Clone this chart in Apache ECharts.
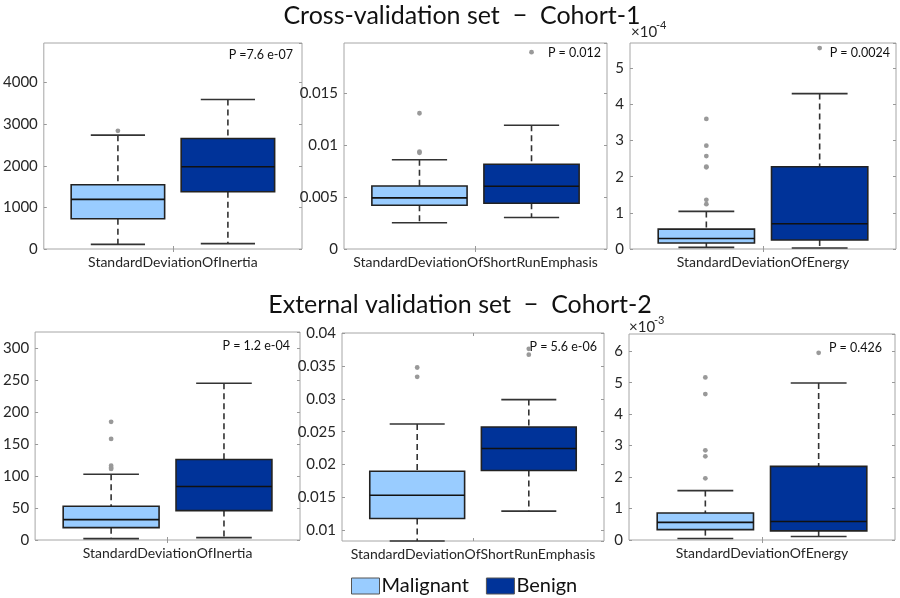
<!DOCTYPE html>
<html>
<head>
<meta charset="utf-8">
<script src="https://cdn.jsdelivr.net/npm/echarts@6/dist/echarts.min.js"></script>
<style>html,body{margin:0;padding:0;background:#fff}#c{width:900px;height:598px}</style>
</head>
<body>
<div id="c"></div>
<script>
// ---------- DATA ----------
const groups = ['Malignant', 'Benign'];
const rowTitles = ['Cross-validation set  \u2212  Cohort-1', 'External validation set  \u2212  Cohort-2'];
const features = [
  'StandardDeviationOfInertia', 'StandardDeviationOfShortRunEmphasis', 'StandardDeviationOfEnergy',
  'StandardDeviationOfInertia', 'StandardDeviationOfShortRunEmphasis', 'StandardDeviationOfEnergy'
];
const pValues = ['P =7.6 e-07', 'P = 0.012', 'P = 0.0024', 'P = 1.2 e-04', 'P = 5.6 e-06', 'P = 0.426'];
// box stats: [min whisker, Q1, median, Q3, max whisker]
const malignantBox = [
  [112, 728, 1192, 1544, 2736],
  [0.00252, 0.00421, 0.00491, 0.00606, 0.00858],
  [4.6e-6, 1.65e-5, 2.9e-5, 5.5e-5, 1.04e-4],
  [2.1, 19.3, 31.8, 52.7, 102.8],
  [0.0084, 0.01182, 0.01534, 0.0190, 0.02617],
  [5e-5, 3.3e-4, 5.6e-4, 8.6e-4, 1.57e-3]
];
const benignBox = [
  [128, 1376, 1976, 2656, 3592],
  [0.00303, 0.0044, 0.00603, 0.00814, 0.0119],
  [2.8e-6, 2.5e-5, 7.0e-5, 2.275e-4, 4.30e-4],
  [3.7, 45.9, 83.5, 125.7, 245],
  [0.01294, 0.0191, 0.02245, 0.02571, 0.02988],
  [1.1e-4, 2.9e-4, 5.9e-4, 2.34e-3, 4.99e-3]
];
const malignantOutliers = [
  [2840],
  [0.01305, 0.00935, 0.00925],
  [3.60e-4, 2.86e-4, 2.57e-4, 2.28e-4, 2.26e-4, 1.36e-4, 1.24e-4],
  [184.7, 158, 116, 113, 111],
  [0.03476, 0.03334],
  [5.17e-3, 4.64e-3, 2.85e-3, 2.66e-3, 1.96e-3]
];
const benignOutliers = [
  [],
  [0.01892],
  [5.56e-4],
  [],
  [0.0376, 0.0367],
  [5.95e-3]
];
// axis settings
const yMin = [0, 0, 0, 0, 0.0084, 0];
const yMax = [4950, 0.0198, 5.7e-4, 325, 0.04, 6.55e-3];
const yStep = [1000, 0.005, 1e-4, 50, 0.005, 1e-3];
const yExp = [0, 0, -4, 0, 0, -3];

// ---------- LAYOUT / STYLE ----------
const FONT = 'Lato, "Open Sans", sans-serif';
const colors = ['#99CCFF', '#003399'];
const offsets = [-0.213, 0.213];
const gridBoxes = [
  {left: 35, top: 43, width: 267, height: 206},
  {left: 344, top: 43, width: 263, height: 206},
  {left: 630, top: 43, width: 266, height: 206},
  {left: 34, top: 332, width: 266, height: 208},
  {left: 342, top: 333, width: 262, height: 208},
  {left: 629, top: 334, width: 266, height: 206}
];
const pPos = [[293, 55], [601, 53], [890, 53], [290, 346], [597, 347], [882, 348]];

function boxRenderer(off, fill) {
  return function (params, api) {
    const band = api.size([1, 0])[0];
    const x0 = api.value(0);
    const cx = api.coord([x0, 0])[0] + off * band;
    const ys = [1, 2, 3, 4, 5].map(i => api.coord([x0, api.value(i)])[1]);
    const bw = 0.362 * band, cw = 0.21 * band;
    const dash = {stroke: '#333', lineWidth: 1.6, lineDash: [6, 4]};
    const solid = {stroke: '#333', lineWidth: 1.6};
    return {
      type: 'group',
      children: [
        {type: 'line', shape: {x1: cx, y1: ys[4], x2: cx, y2: ys[3]}, style: dash},
        {type: 'line', shape: {x1: cx, y1: ys[1], x2: cx, y2: ys[0]}, style: dash},
        {type: 'line', shape: {x1: cx - cw / 2, y1: ys[4], x2: cx + cw / 2, y2: ys[4]}, style: solid},
        {type: 'line', shape: {x1: cx - cw / 2, y1: ys[0], x2: cx + cw / 2, y2: ys[0]}, style: solid},
        {type: 'rect', shape: {x: cx - bw / 2, y: ys[3], width: bw, height: ys[1] - ys[3]},
          style: {fill: fill, stroke: '#222', lineWidth: 1.6}},
        {type: 'line', shape: {x1: cx - bw / 2, y1: ys[2], x2: cx + bw / 2, y2: ys[2]},
          style: {stroke: '#111', lineWidth: 1.6}}
      ]
    };
  };
}
function outlierRenderer(off) {
  return function (params, api) {
    const band = api.size([1, 0])[0];
    const p = api.coord([api.value(0), api.value(1)]);
    return {type: 'circle', shape: {cx: p[0] + off * band, cy: p[1], r: 2.4}, style: {fill: '#999'}};
  };
}

const grid = [], xAxis = [], yAxis = [], series = [], graphic = [];
const axisTickStyle = {show: true, inside: true, length: 3, lineStyle: {color: '#999'}};
for (let i = 0; i < 6; i++) {
  grid.push(Object.assign({show: true, borderColor: '#a6a6a6', borderWidth: 1, containLabel: false}, gridBoxes[i]));
  const exp = yExp[i];
  xAxis.push({
    type: 'category', gridIndex: i, data: [features[i]], position: 'bottom',
    axisLine: {show: false}, axisTick: Object.assign({alignWithLabel: true}, axisTickStyle),
    axisLabel: {fontFamily: FONT, fontSize: 14, color: '#262626', margin: 6}
  });
  xAxis.push({
    type: 'category', gridIndex: i, data: [features[i]], position: 'top',
    axisLine: {show: false}, axisTick: Object.assign({alignWithLabel: true}, axisTickStyle),
    axisLabel: {show: false}
  });
  const yBase = {
    type: 'value', gridIndex: i, min: yMin[i], max: yMax[i],
    minInterval: yStep[i], maxInterval: yStep[i],
    splitLine: {show: false}, axisLine: {show: false}, axisTick: axisTickStyle
  };
  yAxis.push(Object.assign({}, yBase, {
    position: 'left',
    axisLabel: {
      fontFamily: FONT, fontSize: 15, color: '#262626', margin: 6,
      showMaxLabel: Math.abs(yMax[i] / yStep[i] - Math.round(yMax[i] / yStep[i])) < 1e-6,
      showMinLabel: Math.abs(yMin[i] / yStep[i] - Math.round(yMin[i] / yStep[i])) < 1e-6,
      formatter: function (v) { return String(+(v / Math.pow(10, exp)).toFixed(6)); }
    }
  }));
  yAxis.push(Object.assign({}, yBase, {position: 'right', axisLabel: {show: false}}));

  const boxes = [malignantBox[i], benignBox[i]];
  const outs = [malignantOutliers[i], benignOutliers[i]];
  for (let g = 0; g < 2; g++) {
    series.push({
      name: groups[g], type: 'custom', xAxisIndex: 2 * i, yAxisIndex: 2 * i,
      itemStyle: {color: colors[g]},
      renderItem: boxRenderer(offsets[g], colors[g]),
      encode: {x: 0, y: [1, 2, 3, 4, 5]},
      data: [[0].concat(boxes[g])], z: 2, silent: true
    });
    series.push({
      name: groups[g], type: 'custom', xAxisIndex: 2 * i, yAxisIndex: 2 * i,
      itemStyle: {color: colors[g]},
      renderItem: outlierRenderer(offsets[g]),
      encode: {x: 0, y: 1},
      data: outs[g].map(v => [0, v]), z: 3, silent: true
    });
  }
  graphic.push({
    type: 'text', x: pPos[i][0], y: pPos[i][1],
    style: {text: pValues[i], font: '12.5px ' + FONT, fill: '#111', textAlign: 'right', textVerticalAlign: 'middle'}
  });
}
// exponent labels
[[2, 631, 32], [5, 629, 327]].forEach(function (e) {
  const exp = yExp[e[0]];
  graphic.push({type: 'text', x: e[1], y: e[2],
    style: {text: '\u00d710', font: '15px ' + FONT, fill: '#262626', textAlign: 'left', textVerticalAlign: 'middle'}});
  graphic.push({type: 'text', x: e[1] + 25, y: e[2] - 7,
    style: {text: String(exp), font: '11px ' + FONT, fill: '#262626', textAlign: 'left', textVerticalAlign: 'middle'}});
});
// row titles
graphic.push({type: 'text', x: 462, y: 16,
  style: {text: rowTitles[0], font: '25px ' + FONT, fill: '#111', textAlign: 'center', textVerticalAlign: 'middle'}});
graphic.push({type: 'text', x: 460, y: 305,
  style: {text: rowTitles[1], font: '25px ' + FONT, fill: '#111', textAlign: 'center', textVerticalAlign: 'middle'}});

const chart = echarts.init(document.getElementById('c'), null, {renderer: 'canvas'});
chart.setOption({
  animation: false,
  grid: grid, xAxis: xAxis, yAxis: yAxis, series: series, graphic: graphic,
  legend: {
    data: groups, left: 351, top: 576, padding: 0, icon: 'rect', itemWidth: 28, itemHeight: 16, itemGap: 17,
    selectedMode: false,
    itemStyle: {borderColor: '#555', borderWidth: 1},
    textStyle: {fontFamily: FONT, fontSize: 20, color: '#111', padding: [0, 0, 0, -3]}
  }
});
</script>
</body>
</html>
